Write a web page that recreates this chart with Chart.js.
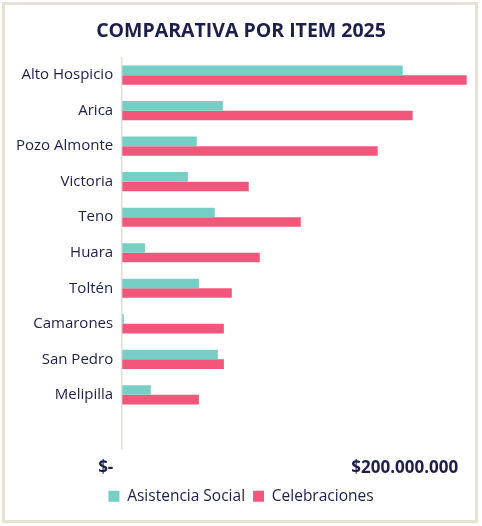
<!DOCTYPE html>
<html>
<head>
<meta charset="utf-8">
<script src="https://cdn.jsdelivr.net/npm/chart.js@4.4.1/dist/chart.umd.min.js"></script>
<style>
  html, body { margin: 0; padding: 0; background: #ffffff; }
  #frame {
    position: absolute; left: 2px; top: 2px; width: 476px; height: 521px;
    box-sizing: border-box; border: 3px solid #e6e2d4; background: #ffffff;
  }
  #wrap { position: absolute; left: 0; top: 0; right: 0; bottom: 0; }
</style>
</head>
<body>
<div id="frame"><div id="wrap"><canvas id="customChart"></canvas></div></div>
<script>
// Data
const labels = ['Alto Hospicio', 'Arica', 'Pozo Almonte', 'Victoria', 'Teno', 'Huara',
    'Toltén', 'Camarones', 'San Pedro', 'Melipilla', ''];
const asistenciaSocial = [162700000, 58400000, 43300000, 38100000, 53700000, 13200000,
    44500000, 1000000, 55500000, 16600000, null];
const celebraciones = [199800000, 168500000, 148200000, 73400000, 103600000, 79800000,
    63600000, 59000000, 59000000, 44500000, null];
const xTicks = [0, 200000000];

const navy = '#1d1f4a';
const ctx = document.getElementById('customChart').getContext('2d');

const customChart = new Chart(ctx, {
    type: 'bar',
    data: {
        labels: labels,
        datasets: [
            {
                label: 'Asistencia Social',
                data: asistenciaSocial,
                backgroundColor: '#75cfc4',
                borderWidth: 0,
                barPercentage: 1,
                categoryPercentage: 0.54
            },
            {
                label: 'Celebraciones',
                data: celebraciones,
                backgroundColor: '#f2577b',
                borderWidth: 0,
                barPercentage: 1,
                categoryPercentage: 0.54
            }
        ]
    },
    options: {
        indexAxis: 'y',
        responsive: true,
        maintainAspectRatio: false,
        animation: false,
        layout: { padding: { left: 10, right: 8, top: 4, bottom: 6 } },
        scales: {
            x: {
                min: xTicks[0],
                max: xTicks[xTicks.length - 1],
                grid: { display: false },
                border: { display: false },
                afterBuildTicks: (axis) => {
                    axis.ticks = xTicks.map(v => ({ value: v }));
                },
                ticks: {
                    align: 'end',
                    padding: 2,
                    color: navy,
                    font: { family: 'Open Sans', size: 17, weight: 'bold' },
                    callback: (v) => v === 0 ? '$-  ' :
                        '$' + v.toString().replace(/\B(?=(\d{3})+(?!\d))/g, '.') + '  '
                }
            },
            y: {
                grid: { display: false },
                border: { display: true, color: '#e2ded3', width: 1.5 },
                ticks: {
                    color: navy,
                    padding: 1,
                    font: { family: 'Open Sans', size: 15 }
                }
            }
        },
        plugins: {
            title: {
                display: true,
                text: 'COMPARATIVA POR ITEM 2025',
                color: navy,
                font: { family: 'Open Sans', size: 19.5, weight: 'bold' },
                padding: { top: 11, bottom: 14 }
            },
            legend: {
                position: 'bottom',
                labels: {
                    color: navy,
                    boxWidth: 11,
                    boxHeight: 11,
                    padding: 8,
                    font: { family: 'Open Sans', size: 15.5 }
                }
            },
            tooltip: { enabled: false }
        }
    }
});
</script>
</body>
</html>
